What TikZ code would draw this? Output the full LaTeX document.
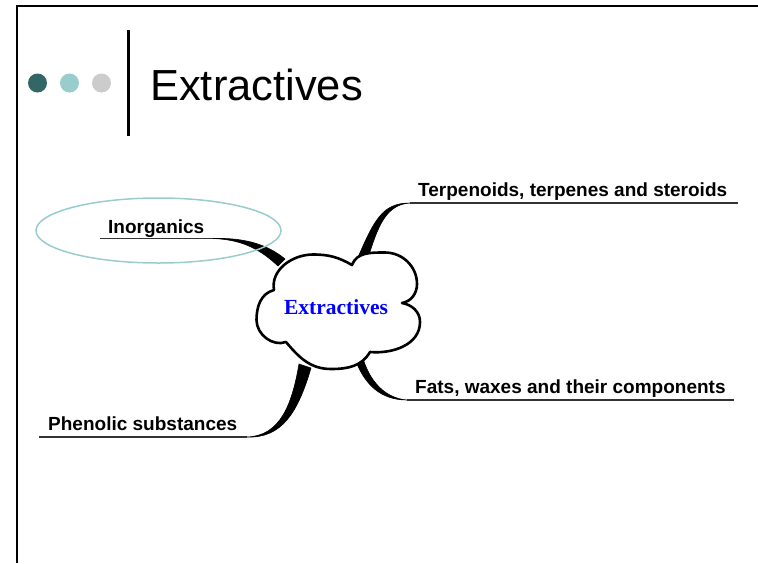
\documentclass[tikz,border=0pt]{standalone}
\usepackage{fontspec}
\setmainfont{Liberation Sans}
\newfontfamily\serifbold{Liberation Serif}
\definecolor{dotdark}{HTML}{336666}
\definecolor{dotlight}{HTML}{99CCCC}
\definecolor{dotgray}{HTML}{CCCCCC}
\definecolor{ringcol}{HTML}{99CCCC}
\tikzset{
  lbl/.style={anchor=base west,inner sep=0pt,font=\fontsize{19}{21}\selectfont\bfseries},
  uline/.style={line width=1.4pt,draw=black!80},
  taper/.style={fill=black,draw=black,line width=0.6pt},
}
\begin{document}
\begin{tikzpicture}[x=1pt,y=1pt]
\useasboundingbox (0,0) rectangle (758,-563);
% frame
\draw[line width=2.2pt] (17,-563) -- (17,-6) -- (758,-6);
% dots and bar
\fill[dotdark] (37.5,-83) circle (9.5);
\fill[dotlight] (69.5,-83) circle (9.5);
\fill[dotgray] (101.5,-83) circle (9.5);
\draw[line width=2.4pt] (128.3,-30) -- (128.3,-136);
\node[anchor=base west,inner sep=0pt,font=\fontsize{43.5}{50}\selectfont] (title) at (150,-100) {Extractives};

% labels
\node[lbl] (inorg) at (108,-233) {Inorganics};
\node[lbl] (terp) at (418,-196.5) {Terpenoids, terpenes and steroids};
\node[lbl] (fats) at (415,-393) {Fats, waxes and their components};
\node[lbl] (phen) at (48,-430.5) {Phenolic substances};

% underline end points
\coordinate (inA) at (100,-238.5); \coordinate (inB) at (213,-238.5);
\coordinate (tA) at (410,-203); \coordinate (tB) at (738,-203);
\coordinate (fA) at (407,-400); \coordinate (fB) at (734,-400);
\coordinate (pA) at (39,-437); \coordinate (pB) at (247,-437);

\draw[uline] (inA) -- (inB);
\draw[uline] (tA) -- (tB);
\draw[uline] (fA) -- (fB);
\draw[uline] (pA) -- (pB);

% tapered connectors
\fill[taper] (inB) .. controls (246,-237.5) and (268,-245) .. (285,-259) -- (278,-266) .. controls (262,-251) and (244,-239.5) .. (inB) -- cycle;
\fill[taper] (tA) .. controls (382,-203) and (374,-220) .. (356,-262) -- (368,-258) .. controls (378,-226) and (386,-204.5) .. (tA) -- cycle;
\fill[taper] (fA) .. controls (382,-400) and (364,-386) .. (354,-356) -- (362,-355) .. controls (369,-382) and (386,-398.5) .. (fA) -- cycle;
\fill[taper] (pB) .. controls (280,-436) and (292,-405) .. (299,-364) -- (311,-368) .. controls (298,-412) and (282,-438.5) .. (pB) -- cycle;

% ellipse around Inorganics
\draw[ringcol,line width=1.5pt] (158.5,-230.5) ellipse [x radius=122.5,y radius=32.5];

% cloud
\draw[line width=2.6pt,fill=white,line join=round]
  (274,-290) to[out=100,in=180] (313,-254.5)
  to[out=0,in=150] (352,-265)
  to[out=70,in=180] (385,-252.5)
  to[out=0,in=90] (417,-284)
  to[out=-90,in=10] (402,-303)
  to[out=-10,in=90] (420,-322)
  to[out=-90,in=-5] (370,-352)
  to[out=-120,in=0] (331,-369)
  to[out=180,in=-50] (286,-342)
  to[out=200,in=-90] (256.5,-320)
  to[out=90,in=195] (274,-290) -- cycle;
\node[inner sep=0pt,anchor=base,text=blue,font=\serifbold\fontsize{21.5}{24}\selectfont\bfseries] (cloud) at (336,-314) {Extractives};
\end{tikzpicture}
\end{document}
